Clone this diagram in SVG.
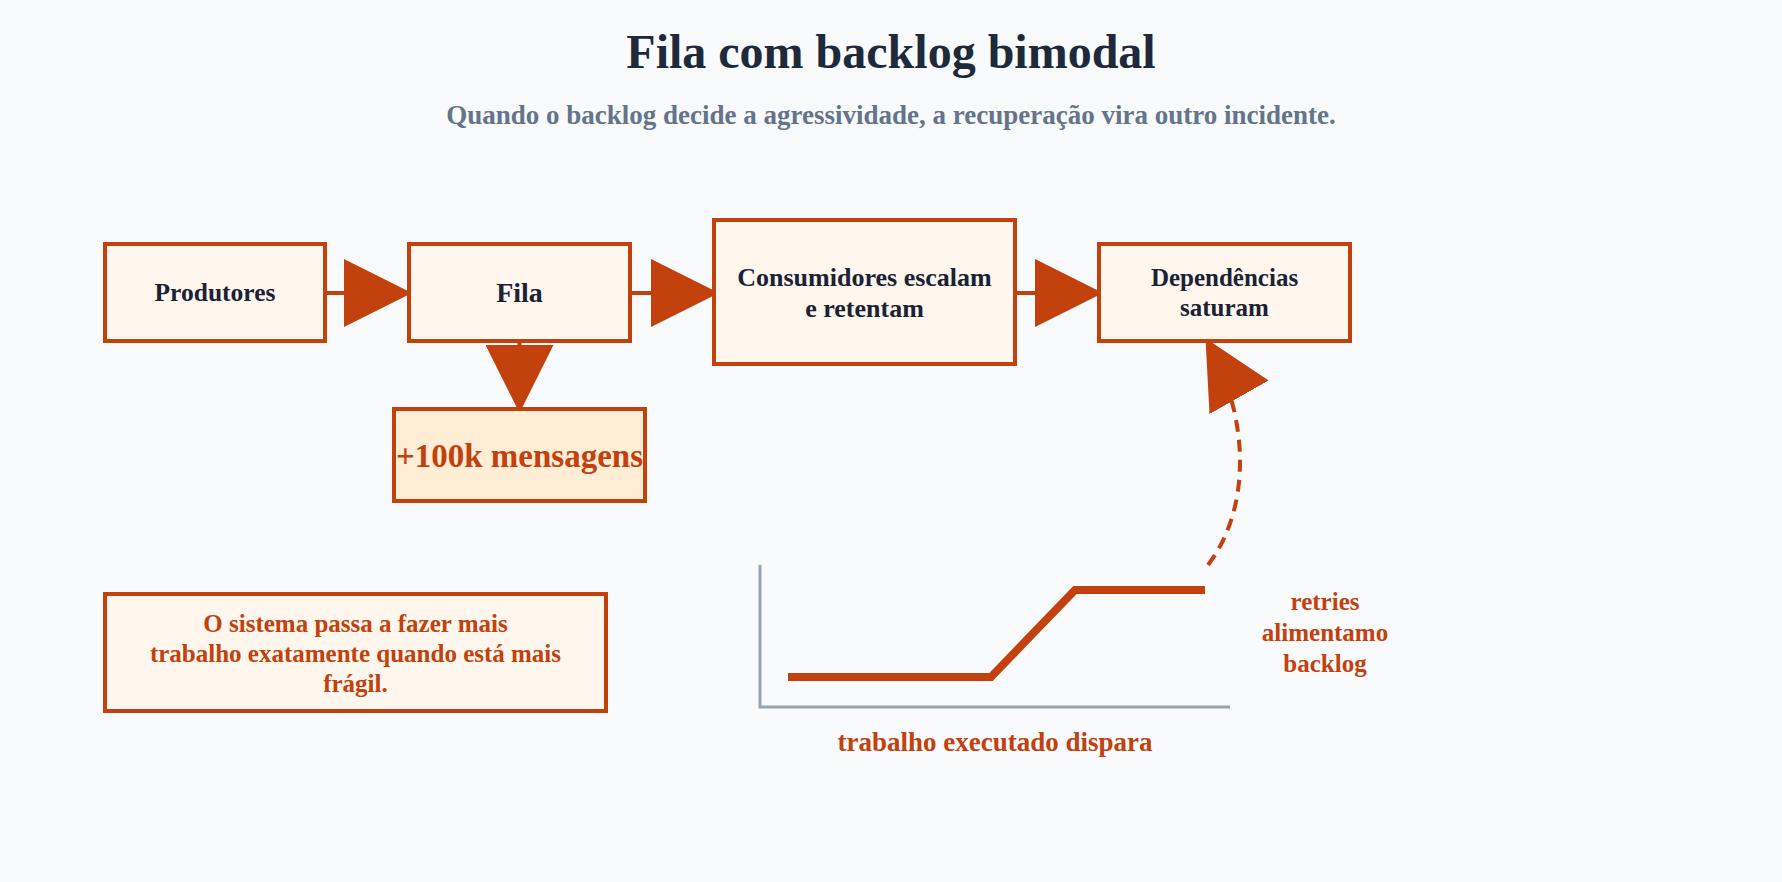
<svg xmlns="http://www.w3.org/2000/svg" width="1782" height="882" viewBox="0 0 1782 882">
<defs>
<style>
.bg{fill:#f8fafc}
.node{fill:#fff7ed;stroke:#c2410c;stroke-width:4}
.hot{fill:#ffedd5;stroke:#c2410c;stroke-width:4}
.t{font-family:"Liberation Serif","Times New Roman",serif;font-weight:bold;text-anchor:middle}
.dark{fill:#1a2336}
.or{fill:#c2410c}
.edge{fill:none;stroke:#c2410c;stroke-width:4}
</style>
<marker id="arr" markerUnits="userSpaceOnUse" markerWidth="68" markerHeight="68" viewBox="0 0 68 68" refX="67" refY="34" orient="auto">
<path d="M0,0 L68,34 L0,68 Z" fill="#c2410c"/>
</marker>
</defs>
<rect class="bg" x="0" y="0" width="1782" height="882"/>
<text class="t" x="891" y="68" font-size="48" fill="#1e293b">Fila com backlog bimodal</text>
<text class="t" x="891" y="124" font-size="27" fill="#64748b">Quando o backlog decide a agressividade, a recuperação vira outro incidente.</text>

<g id="connectors">
<line class="edge" x1="325" y1="293" x2="411" y2="293" marker-end="url(#arr)"/>
<line class="edge" x1="630" y1="293" x2="718" y2="293" marker-end="url(#arr)"/>
<line class="edge" x1="1015" y1="293" x2="1102" y2="293" marker-end="url(#arr)"/>
<line class="edge" x1="519.5" y1="341" x2="519.5" y2="412" marker-end="url(#arr)"/>
<path class="edge" d="M1208,565 C1250,510 1252,420 1206,339" stroke-dasharray="12 8" marker-end="url(#arr)"/>
</g>

<g id="produtores">
<rect class="node" x="105" y="244" width="220" height="97"/>
<text class="t dark" x="215" y="301" font-size="25.5">Produtores</text>
</g>
<g id="fila">
<rect class="node" x="409" y="244" width="221" height="97"/>
<text class="t dark" x="519.5" y="302" font-size="28">Fila</text>
</g>
<g id="consumidores">
<rect class="node" x="714" y="220" width="301" height="144"/>
<text class="t dark" x="864.5" y="286" font-size="26">Consumidores escalam</text>
<text class="t dark" x="864.5" y="317" font-size="26">e retentam</text>
</g>
<g id="dependencias">
<rect class="node" x="1099" y="244" width="251" height="97"/>
<text class="t dark" x="1224.5" y="286" font-size="25">Dependências</text>
<text class="t dark" x="1224.5" y="316" font-size="25">saturam</text>
</g>
<g id="mensagens">
<rect class="hot" x="394" y="409" width="251" height="92"/>
<text class="t or" x="519.5" y="467" font-size="33">+100k mensagens</text>
</g>
<g id="nota">
<rect class="node" x="105" y="594" width="501" height="117"/>
<text class="t or" x="355.5" y="632" font-size="25">O sistema passa a fazer mais</text>
<text class="t or" x="355.5" y="662" font-size="25">trabalho exatamente quando está mais</text>
<text class="t or" x="355.5" y="692" font-size="25">frágil.</text>
</g>
<g id="grafico">
<polyline points="760,565 760,707 1230,707" fill="none" stroke="#94a3b8" stroke-width="3"/>
<polyline points="788,677 991,677 1075,590 1205,590" fill="none" stroke="#c2410c" stroke-width="8"/>
<text class="t or" x="995" y="751" font-size="27">trabalho executado dispara</text>
<text class="t or" x="1325" y="610" font-size="25">retries</text>
<text class="t or" x="1325" y="641" font-size="25">alimentamo</text>
<text class="t or" x="1325" y="672" font-size="25">backlog</text>
</g>
</svg>
